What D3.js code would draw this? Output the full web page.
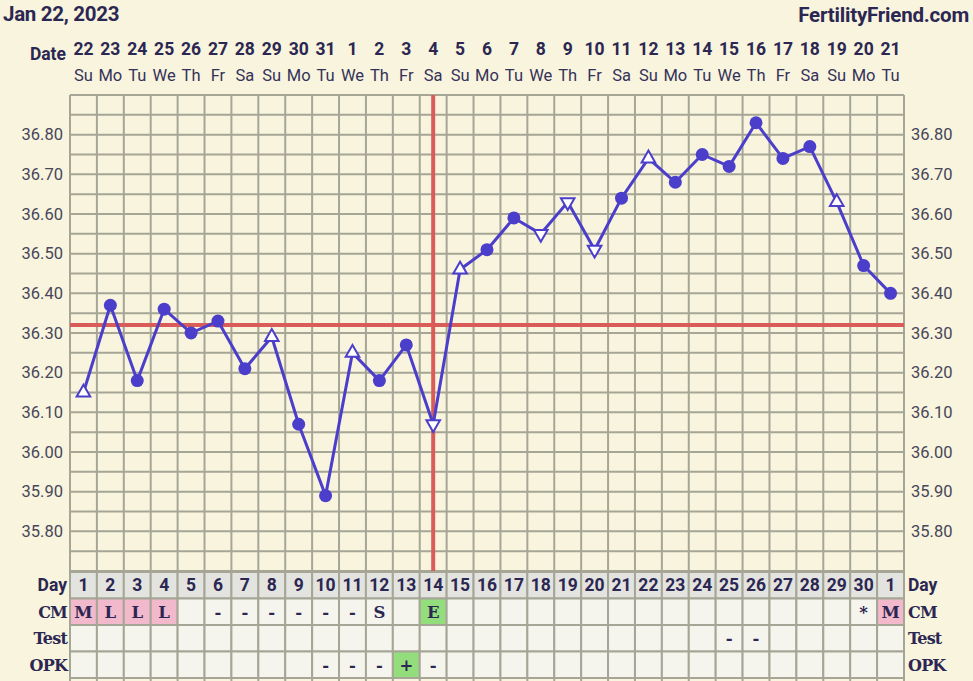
<!DOCTYPE html>
<html>
<head>
<meta charset="utf-8">
<script src="https://cdn.jsdelivr.net/npm/d3@7"></script>
<style>
  body { margin: 0; background: #f8f4dd; }
  svg { display: block; }
</style>
</head>
<body>
<div id="wrapper"></div>
<script>
// chart data
const chartTitle = "Jan 22, 2023"
const siteName = "FertilityFriend.com"
const dateLabels = ["22","23","24","25","26","27","28","29","30","31","1","2","3","4","5","6","7","8","9","10","11","12","13","14","15","16","17","18","19","20","21"]
const weekdayLabels = ["Su","Mo","Tu","We","Th","Fr","Sa","Su","Mo","Tu","We","Th","Fr","Sa","Su","Mo","Tu","We","Th","Fr","Sa","Su","Mo","Tu","We","Th","Fr","Sa","Su","Mo","Tu"]
const cycleDays = ["1","2","3","4","5","6","7","8","9","10","11","12","13","14","15","16","17","18","19","20","21","22","23","24","25","26","27","28","29","30","1"]
const temps = [36.15,36.37,36.18,36.36,36.30,36.33,36.21,36.29,36.07,35.89,36.25,36.18,36.27,36.07,36.46,36.51,36.59,36.55,36.63,36.51,36.64,36.74,36.68,36.75,36.72,36.83,36.74,36.77,36.63,36.47,36.40]
// marker: "dot" filled, "up"/"down" open triangles
const markers = ["up","dot","dot","dot","dot","dot","dot","up","dot","dot","up","dot","dot","down","up","dot","dot","down","down","down","dot","up","dot","dot","dot","dot","dot","dot","up","dot","dot"]
const yTicks = [35.8,35.9,36.0,36.1,36.2,36.3,36.4,36.5,36.6,36.7,36.8]
const coverline = 36.32
const ovulationDay = 14
const cmRow = ["M","L","L","L","","-","-","-","-","-","-","S","","E","","","","","","","","","","","","","","","","*","M"]
const testRow = ["","","","","","","","","","","","","","","","","","","","","","","","","-","-","","","","",""]
const opkRow = ["","","","","","","","","","-","-","-","+","-","","","","","","","","","","","","","","","","",""]

function drawChart() {

  const dimensions = {
    width: 973,
    height: 681,
    left: 70,
    right: 904,
    top: 95,
    plotBottom: 571,
    rowH: 26.5,
  }

  const ink = "#2b2752"
  const gridColor = "#a6a697"
  const lineColor = "#4b3ecb"
  const redColor = "#d95c58"

  const svg = d3.select("#wrapper")
    .append("svg")
      .attr("width", dimensions.width)
      .attr("height", dimensions.height)
      .style("font-family", "Roboto, 'Noto Sans', sans-serif")

  svg.append("rect")
    .attr("width", dimensions.width)
    .attr("height", dimensions.height)
    .attr("fill", "#f8f4dd")

  // scales
  const xScale = d3.scaleLinear()
    .domain([0.5, temps.length + 0.5])
    .range([dimensions.left, dimensions.right])

  const yScale = d3.scaleLinear()
    .domain([35.70, 36.90])
    .range([dimensions.plotBottom, dimensions.top])

  const colW = xScale(2) - xScale(1)

  // header
  svg.append("text")
    .attr("x", 3).attr("y", 21)
    .attr("font-size", 20.5).attr("font-weight", 700)
    .attr("letter-spacing", -0.3)
    .attr("fill", ink)
    .text(chartTitle)

  svg.append("text")
    .attr("x", 969).attr("y", 22)
    .attr("text-anchor", "end")
    .attr("font-size", 20.5).attr("font-weight", 700)
    .attr("letter-spacing", -0.2)
    .attr("fill", ink)
    .text(siteName)

  svg.append("text")
    .attr("x", 66).attr("y", 60)
    .attr("text-anchor", "end")
    .attr("font-size", 17.5).attr("font-weight", 700)
    .attr("fill", ink)
    .text("Date")

  svg.append("g")
    .selectAll("text")
    .data(dateLabels)
    .join("text")
      .attr("x", (d, i) => xScale(i + 1))
      .attr("y", 55)
      .attr("text-anchor", "middle")
      .attr("font-size", 17.5).attr("font-weight", 700)
      .attr("fill", ink)
      .text(d => d)

  svg.append("g")
    .selectAll("text")
    .data(weekdayLabels)
    .join("text")
      .attr("x", (d, i) => xScale(i + 1))
      .attr("y", 81)
      .attr("text-anchor", "middle")
      .attr("font-size", 16.5)
      .attr("fill", "#35325a")
      .text(d => d)

  // grid
  const grid = svg.append("g")
  const hLines = d3.range(0, 25).map(i => 35.70 + i * 0.05)
  grid.selectAll("line.h")
    .data(hLines)
    .join("line")
      .attr("class", "h")
      .attr("x1", dimensions.left).attr("x2", dimensions.right)
      .attr("y1", d => yScale(d)).attr("y2", d => yScale(d))
      .attr("stroke", gridColor).attr("stroke-width", 2)

  // table rows
  const rows = [
    { label: "Day", values: cycleDays },
    { label: "CM", values: cmRow },
    { label: "Test", values: testRow },
    { label: "OPK", values: opkRow },
  ]
  const rowTop = i => dimensions.plotBottom + 1 + i * dimensions.rowH

  const cellFill = (rowIdx, v) => {
    if (rowIdx === 0) return "#e3e3df"
    if (rowIdx === 1 && (v === "M" || v === "L")) return "#f2b8cc"
    if (v === "E" || v === "+") return "#93dd7d"
    return "#f5f5ee"
  }

  rows.forEach((row, r) => {
    const g = svg.append("g")
    g.selectAll("rect")
      .data(row.values)
      .join("rect")
        .attr("x", (d, i) => xScale(i + 0.5))
        .attr("y", rowTop(r))
        .attr("width", colW)
        .attr("height", dimensions.rowH)
        .attr("fill", d => cellFill(r, d))
        .attr("stroke", gridColor)
        .attr("stroke-width", 2)

    g.selectAll("text")
      .data(row.values)
      .join("text")
        .attr("x", (d, i) => xScale(i + 1))
        .attr("y", rowTop(r) + dimensions.rowH / 2 + 6)
        .attr("text-anchor", "middle")
        .attr("font-size", r === 0 ? 17.5 : 16.5)
        .attr("font-weight", 700)
        .attr("font-family", r === 0 ? "Roboto, sans-serif" : "'DejaVu Serif', serif")
        .attr("fill", ink)
        .text(d => d)

    const labelFont = r === 0 ? "Roboto, sans-serif" : "'DejaVu Serif', serif"
    g.append("text")
      .attr("x", 67).attr("y", rowTop(r) + dimensions.rowH / 2 + 6)
      .attr("text-anchor", "end")
      .attr("font-size", r === 0 ? 17.5 : 16).attr("font-weight", 700)
      .attr("font-family", labelFont)
      .attr("letter-spacing", r === 0 ? 0 : -0.8)
      .attr("fill", ink)
      .text(row.label)
    g.append("text")
      .attr("x", 908).attr("y", rowTop(r) + dimensions.rowH / 2 + 6)
      .attr("font-size", r === 0 ? 17.5 : 16).attr("font-weight", 700)
      .attr("font-family", labelFont)
      .attr("letter-spacing", r === 0 ? 0 : -0.8)
      .attr("fill", ink)
      .text(row.label)
  })

  // vertical grid lines through plot and table
  const tableBottom = rowTop(rows.length)
  grid.selectAll("line.v")
    .data(d3.range(0, temps.length + 1))
    .join("line")
      .attr("class", "v")
      .attr("x1", d => xScale(d + 0.5)).attr("x2", d => xScale(d + 0.5))
      .attr("y1", dimensions.top).attr("y2", tableBottom + 4)
      .attr("stroke", gridColor).attr("stroke-width", 2)

  // y axes labels both sides
  const yAxisLeft = d3.axisLeft(yScale)
    .tickValues(yTicks)
    .tickFormat(d3.format(".2f"))
    .tickSize(0)
    .tickPadding(0)
  const yAxisRight = d3.axisRight(yScale)
    .tickValues(yTicks)
    .tickFormat(d3.format(".2f"))
    .tickSize(0)
    .tickPadding(0)

  svg.append("g")
    .attr("transform", "translate(63,0)")
    .call(yAxisLeft)
    .call(g => g.select(".domain").remove())
    .selectAll("text")
      .attr("font-size", 16.5)
      .attr("font-family", "Roboto, sans-serif")
      .attr("fill", "#47465a")

  svg.append("g")
    .attr("transform", "translate(911,0)")
    .call(yAxisRight)
    .call(g => g.select(".domain").remove())
    .selectAll("text")
      .attr("font-size", 16.5)
      .attr("font-family", "Roboto, sans-serif")
      .attr("fill", "#47465a")

  // coverline and ovulation line
  svg.append("line")
    .attr("x1", dimensions.left).attr("x2", dimensions.right)
    .attr("y1", yScale(coverline)).attr("y2", yScale(coverline))
    .attr("stroke", redColor).attr("stroke-width", 4)

  svg.append("line")
    .attr("x1", xScale(ovulationDay)).attr("x2", xScale(ovulationDay))
    .attr("y1", dimensions.top).attr("y2", dimensions.plotBottom)
    .attr("stroke", redColor).attr("stroke-width", 4)

  // temperature line
  const lineGenerator = d3.line()
    .x((d, i) => xScale(i + 1))
    .y(d => yScale(d))

  svg.append("path")
    .attr("d", lineGenerator(temps))
    .attr("fill", "none")
    .attr("stroke", lineColor)
    .attr("stroke-width", 3)
    .attr("stroke-linejoin", "round")

  const points = temps.map((t, i) => ({ day: i + 1, t, m: markers[i] }))

  svg.append("g")
    .selectAll("circle")
    .data(points.filter(d => d.m === "dot"))
    .join("circle")
      .attr("cx", d => xScale(d.day))
      .attr("cy", d => yScale(d.t))
      .attr("r", 6.5)
      .attr("fill", lineColor)

  const tri = d3.symbol().type(d3.symbolTriangle).size(80)
  svg.append("g")
    .selectAll("path")
    .data(points.filter(d => d.m !== "dot"))
    .join("path")
      .attr("d", tri)
      .attr("transform", d => `translate(${xScale(d.day)},${yScale(d.t)}) rotate(${d.m === "down" ? 180 : 0})`)
      .attr("fill", "#ffffff")
      .attr("stroke", lineColor)
      .attr("stroke-width", 2)
}
drawChart()
</script>
</body>
</html>
